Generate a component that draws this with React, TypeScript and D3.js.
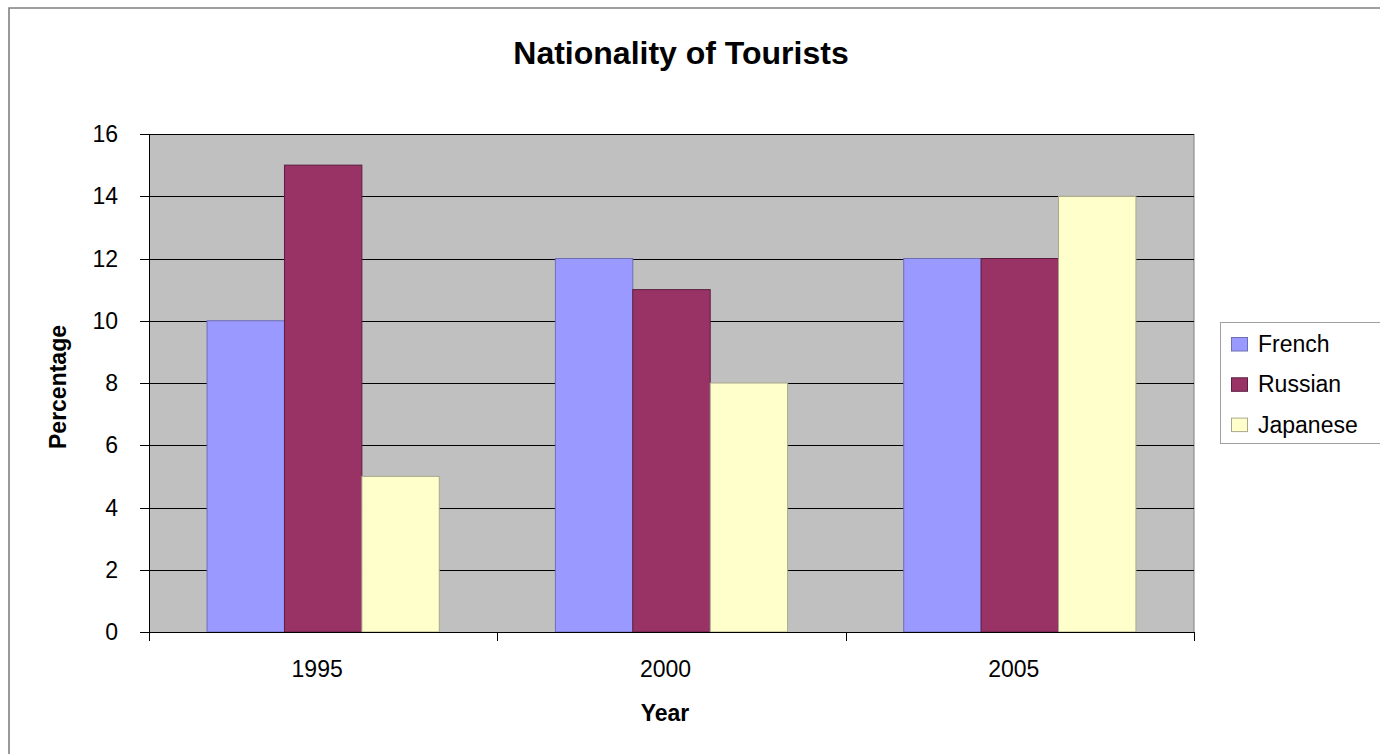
import React from "react";
import * as d3 from "d3";

const years = ["1995", "2000", "2005"];
const seriesNames = ["French", "Russian", "Japanese"];
const french = [10, 12, 12];
const russian = [15, 11, 12];
const japanese = [5, 8, 14];
const yTicks = [0, 2, 4, 6, 8, 10, 12, 14, 16];

const fills = ["#9999FF", "#993366", "#FFFFCC"];
const strokes = ["#6E6EB5", "#5C1E40", "#A8A88C"];

const W = 1380;
const H = 754;
const plot = { left: 149, right: 1194, top: 134, bottom: 632 };
const font = "'Liberation Sans', Arial, sans-serif";

export default function App() {
  const values = [french, russian, japanese];
  const y = d3.scaleLinear().domain([0, 16]).range([plot.bottom, plot.top]);
  const x0 = d3.scaleBand<string>().domain(years).range([plot.left, plot.right]).padding(0);
  const bw = x0.bandwidth();
  const barW = bw / 4.5;
  const x1 = d3
    .scaleBand<string>()
    .domain(seriesNames)
    .range([barW * 0.75, barW * 3.75])
    .padding(0);

  const boundaries = [...years.map((yr) => x0(yr) as number), plot.right];

  return (
    <svg
      width={W}
      height={H}
      style={{ position: "absolute", left: 0, top: 0, background: "#fff" }}
      fontFamily={font}
    >
      {/* outer chart border */}
      <path d={`M9,${H + 5} L9,8 L${W + 5},8`} fill="none" stroke="#808080" strokeWidth={1.6} />

      {/* title */}
      <text x={681} y={64} textAnchor="middle" fontSize={32} fontWeight="bold" fill="#000">
        Nationality of Tourists
      </text>

      {/* plot area */}
      <rect
        x={plot.left}
        y={plot.top}
        width={plot.right - plot.left}
        height={plot.bottom - plot.top}
        fill="#C0C0C0"
      />
      <line x1={plot.right} x2={plot.right} y1={plot.top} y2={plot.bottom} stroke="#808080" strokeWidth={1} />

      {/* gridlines */}
      {yTicks
        .filter((t) => t > 0)
        .map((t) => (
          <line
            key={"g" + t}
            x1={plot.left}
            x2={plot.right}
            y1={Math.round(y(t)) + 0.5}
            y2={Math.round(y(t)) + 0.5}
            stroke="#000"
            strokeWidth={1}
          />
        ))}

      {/* bars */}
      {years.map((yr, i) => (
        <g key={yr} transform={`translate(${x0(yr)},0)`}>
          {seriesNames.map((s, j) => {
            const v = values[j][i];
            return (
              <rect
                key={s}
                x={x1(s)}
                y={y(v)}
                width={x1.bandwidth()}
                height={y(0) - y(v)}
                fill={fills[j]}
                stroke={strokes[j]}
                strokeWidth={1}
              />
            );
          })}
        </g>
      ))}

      {/* y axis */}
      <line x1={plot.left + 0.5} x2={plot.left + 0.5} y1={plot.top} y2={plot.bottom + 9} stroke="#000" strokeWidth={1} />
      {yTicks.map((t) => (
        <g key={"y" + t}>
          <line
            x1={140}
            x2={plot.left}
            y1={Math.round(y(t)) + 0.5}
            y2={Math.round(y(t)) + 0.5}
            stroke="#000"
            strokeWidth={1}
          />
          <text x={118} y={y(t) + 8} textAnchor="end" fontSize={23} fill="#000">
            {t}
          </text>
        </g>
      ))}

      {/* x axis */}
      <line x1={plot.left} x2={plot.right} y1={plot.bottom + 0.5} y2={plot.bottom + 0.5} stroke="#000" strokeWidth={1} />
      {boundaries.map((bx, i) => (
        <line
          key={"xt" + i}
          x1={Math.round(bx) + 0.5}
          x2={Math.round(bx) + 0.5}
          y1={plot.bottom}
          y2={plot.bottom + 9}
          stroke="#000"
          strokeWidth={1}
        />
      ))}
      {years.map((yr) => (
        <text
          key={"xl" + yr}
          x={(x0(yr) as number) + bw / 2 - 6}
          y={677}
          textAnchor="middle"
          fontSize={23}
          fill="#000"
        >
          {yr}
        </text>
      ))}

      {/* axis titles */}
      <text x={665} y={721} textAnchor="middle" fontSize={23} fontWeight="bold" fill="#000">
        Year
      </text>
      <text
        transform={`translate(66,387) rotate(-90)`}
        textAnchor="middle"
        fontSize={23}
        fontWeight="bold"
        fill="#000"
      >
        Percentage
      </text>

      {/* legend */}
      <rect x={1220.5} y={322.5} width={200} height={121} fill="#fff" stroke="#A0A0A0" strokeWidth={1} />
      {seriesNames.map((s, j) => (
        <g key={"lg" + s} transform={`translate(1231,${337.5 + j * 40.3})`}>
          <rect x={0.5} y={0} width={16} height={13.5} fill={fills[j]} stroke={strokes[j]} strokeWidth={1} />
          <text x={27} y={14.5} fontSize={23} fill="#000">
            {s}
          </text>
        </g>
      ))}
    </svg>
  );
}
